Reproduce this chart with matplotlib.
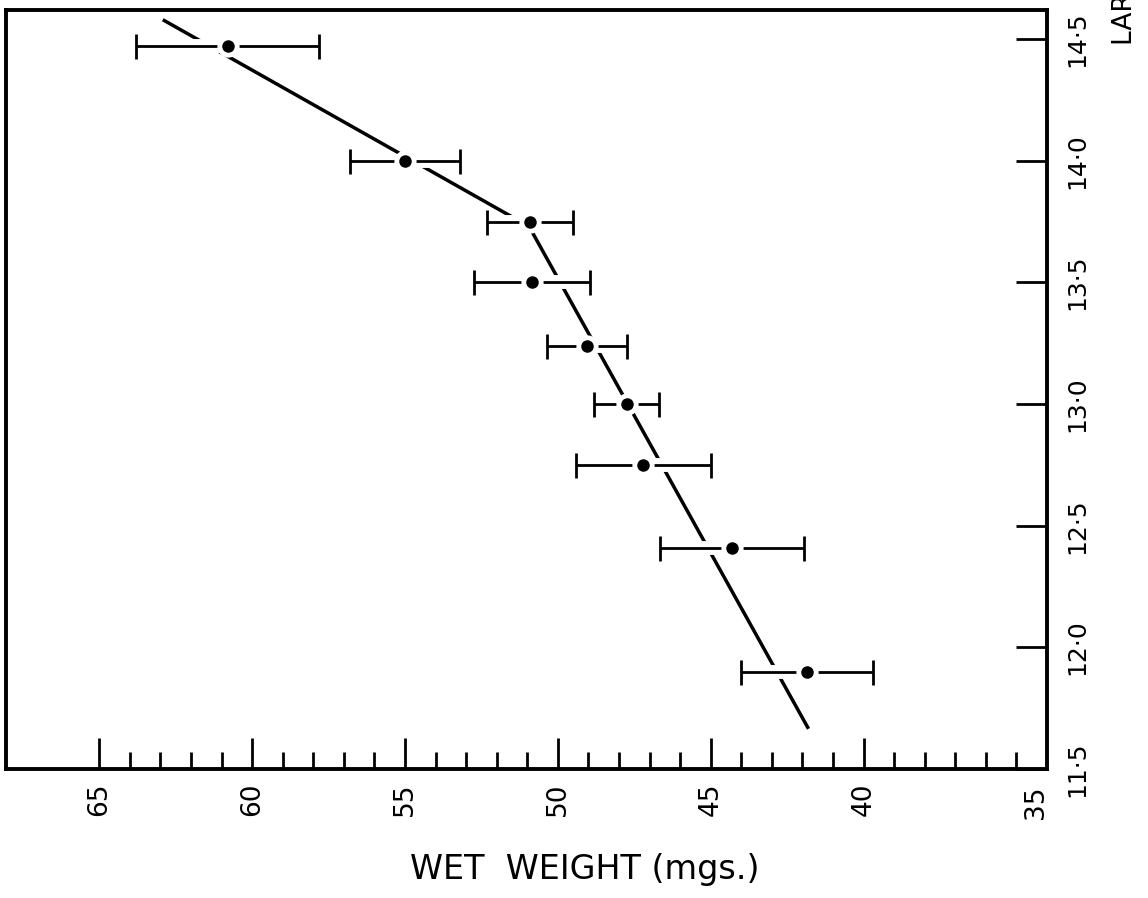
import numpy as np
import matplotlib
matplotlib.use("Agg")
import matplotlib.pyplot as plt
import matplotlib.patheffects as pe
from matplotlib.ticker import FixedLocator

# larval length (mm) against mean wet weight (mg), with spread of weights
length = [14.47, 14.0, 13.75, 13.5, 13.24, 13.0, 12.75, 12.41, 11.9]
weight = [60.8, 55.0, 50.9, 50.85, 49.05, 47.75, 47.2, 44.3, 41.85]
spread = [3.0, 1.8, 1.4, 1.9, 1.3, 1.05, 2.2, 2.35, 2.15]

# fitted line, two straight pieces meeting at 13.73 mm
fit_len = [14.58, 13.73, 11.665]
fit_wt = [62.92, 50.94, 41.8]

wt_major = [65, 60, 55, 50, 45, 40]
wt_minor = [35] + [w for w in range(36, 65) if w % 5 != 0]
len_ticks = [11.5, 12.0, 12.5, 13.0, 13.5, 14.0, 14.5]
len_labels = ["11·5", "12·0", "12·5", "13·0", "13·5", "14·0", "14·5"]

plt.rcParams['font.family'] = ['DejaVu Sans']

fig = plt.figure(figsize=(11.48, 8.98), dpi=100)
ax = fig.add_axes([0.0052, 0.1437, 0.9068, 0.8452])

ax.plot(fit_wt, fit_len, color='black', lw=2.5, solid_capstyle='butt', zorder=1)

eb = ax.errorbar(weight, length, xerr=spread, fmt='none', ecolor='black',
                 elinewidth=2.0, capsize=9, capthick=2.0, zorder=2)
white_edge = [pe.Stroke(linewidth=10, foreground='white'), pe.Normal()]
for coll in eb[2]:
    coll.set_path_effects(white_edge)

# dots with a white ring so the bars stop short of them
ax.plot(weight, length, 'o', color='white', ms=16, mew=0, zorder=3)
ax.plot(weight, length, 'o', color='black', ms=9, mew=0, zorder=4)

ax.set_xlim(68.05, 34.0)
ax.set_ylim(11.5, 14.62)

for s in ax.spines.values():
    s.set_linewidth(2.8)

ax.xaxis.set_major_locator(FixedLocator(wt_major))
ax.xaxis.set_minor_locator(FixedLocator(wt_minor))
ax.set_xticklabels([str(w) for w in wt_major], rotation=90, fontsize=19)
ax.tick_params(axis='x', which='major', direction='in', length=22, width=2.0, pad=10)
ax.tick_params(axis='x', which='minor', direction='in', length=12, width=2.0)

ax.yaxis.tick_right()
ax.set_yticks(len_ticks)
ax.set_yticklabels(len_labels, rotation=90, fontsize=18, va='center')
ax.tick_params(axis='y', which='major', direction='in', length=22, width=2.0, pad=13)

# corner label of the weight scale
ax.annotate("35", xy=(1.0, 0.0), xycoords='axes fraction', xytext=(-8, -12),
            textcoords='offset points', rotation=90, fontsize=19,
            ha='center', va='top')

ax.set_xlabel("WET  WEIGHT (mgs.)", fontsize=24, va='center')
ax.xaxis.set_label_coords(0.556, -0.133)

fig.text(1125 / 1148, 1 - 45 / 898, "LARVAL LENGTH (mms.)", rotation=90,
         rotation_mode='anchor', ha='left', va='center', fontsize=19)

fig.savefig("out.png", dpi=100)
